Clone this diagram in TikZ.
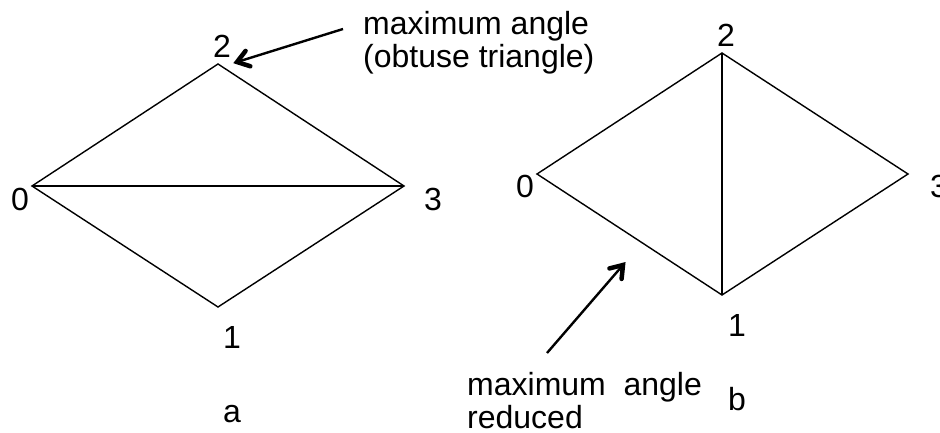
\documentclass[tikz,border=0pt]{standalone}
\usepackage{fontspec}
\setmainfont{Liberation Sans}
\usetikzlibrary{calc}
\begin{document}
\begin{tikzpicture}[x=1pt,y=-1pt,
  edge/.style={line width=1.4pt,line join=miter},
  lbl/.style={inner sep=0pt,font=\fontsize{32}{34}\selectfont},
  note/.style={lbl,anchor=base west},
  shaft/.style={line width=2.4pt},
  barb/.style={line width=4.5pt,line cap=round,line join=miter}]
\useasboundingbox (0,0) rectangle (940,433);
% left diamond
\coordinate (a0) at (32,186);
\coordinate (a2) at (218,64);
\coordinate (a3) at (404,186);
\coordinate (a1) at (218,307);
\draw[edge] (a0) -- (a2) -- (a3) -- (a1) -- cycle;
\draw[edge] (a0) -- (a3);
\node[lbl,anchor=base] (la2) at (222,58) {2};
\node[lbl,anchor=base] (la0) at (20,210) {0};
\node[lbl,anchor=base] (la3) at (433,210) {3};
\node[lbl,anchor=base] (la1) at (232,348) {1};
\node[lbl,anchor=base] (laa) at (232,422) {a};
% right diamond
\coordinate (b0) at (537,174);
\coordinate (b2) at (722,53);
\coordinate (b3) at (908,174);
\coordinate (b1) at (722,295);
\draw[edge] (b0) -- (b2) -- (b3) -- (b1) -- cycle;
\draw[edge] (b2) -- (b1);
\node[lbl,anchor=base] (lb2) at (726,47) {2};
\node[lbl,anchor=base] (lb0) at (525,197) {0};
\node[lbl,anchor=base west] (lb3) at (930,197) {3};
\node[lbl,anchor=base] (lb1) at (737,336) {1};
\node[lbl,anchor=base] (lbb) at (737,410) {b};
% notes
\node[note] (n1) at (363,35) {maximum angle};
\node[note] (n2) at (363,68) {(obtuse triangle)};
\node[note] (n3) at (467,395) {maximum\ \ angle};
\node[note] (n4) at (467,428) {reduced};
% pointers
\coordinate (p1s) at (343,29);
\coordinate (p1e) at (237,62);
\coordinate (p2s) at (547,353);
\coordinate (p2e) at (623,265);
\draw[shaft] (p1s) -- (p1e);
\draw[barb] ($(p1e)!14pt!35:(p1s)$) -- (p1e) -- ($(p1e)!14pt!-35:(p1s)$);
\draw[shaft] (p2s) -- (p2e);
\draw[barb] ($(p2e)!14pt!35:(p2s)$) -- (p2e) -- ($(p2e)!14pt!-35:(p2s)$);
\end{tikzpicture}
\end{document}
